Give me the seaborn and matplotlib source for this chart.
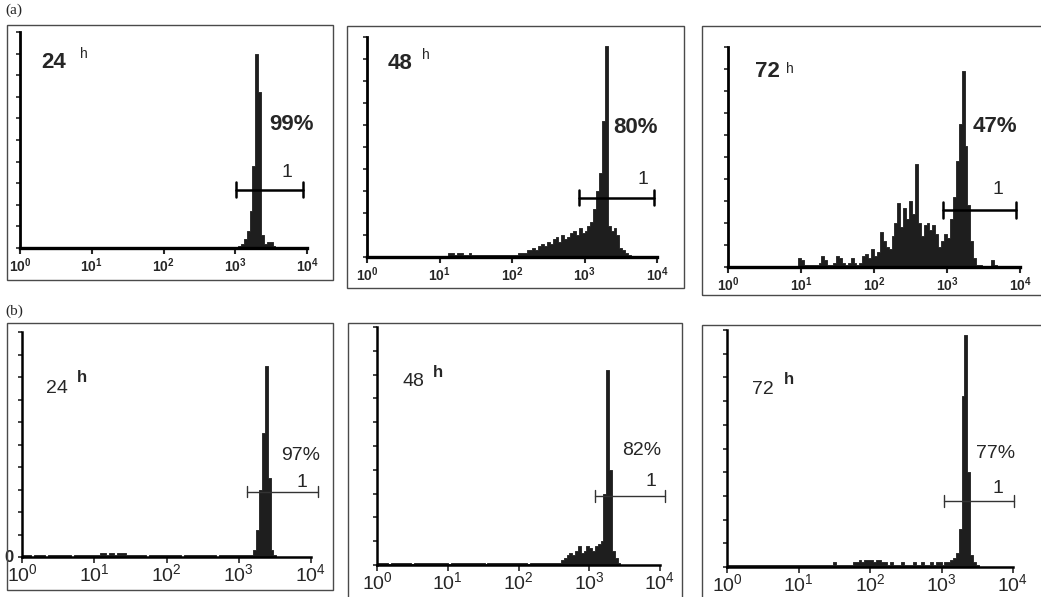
import numpy as np
import pandas as pd
import seaborn as sns
import matplotlib.pyplot as plt
from matplotlib.patches import Rectangle
from matplotlib.ticker import NullLocator

sns.set_style("white")
plt.rcParams["font.family"] = ["Liberation Sans", "DejaVu Sans"]
plt.rcParams["mathtext.fontset"] = "custom"
plt.rcParams["mathtext.rm"] = "Liberation Sans"
plt.rcParams["mathtext.bf"] = "Liberation Sans:bold"

W, H = 1041, 597
BW = 0.04  # bin width in decades (log10 units)

# -----------------------------------
# Data: bin heights (% of y axis), first bin starts at *_start (log10 intensity)
# -----------------------------------
a24_start = 3.00
a24_counts = [0.5, 1, 2, 4, 8, 17, 38, 90, 72, 6, 2, 3, 3, 1]

a48_start = 1.12
a48_counts = [2, 2, 1, 2, 2, 1, 1, 2, 1, 1,
              1, 1, 1, 1, 1, 1, 1, 1, 1, 1,
              1, 1, 1, 1, 2, 2, 2, 3,
              3, 4, 3, 5, 6, 5, 7, 6, 8, 9, 7, 10, 8, 9, 11,
              12, 10, 13, 11, 12,
              14, 16, 22, 30, 38, 62, 96, 14, 12, 13, 10, 4, 3, 2, 1]

a72_start = 0.96
a72_counts = [4, 3, 1, 1, 1, 1, 1, 2, 5, 3,
              1, 1, 2, 5, 4, 2, 1, 2, 4, 2,
              1, 2, 5, 6, 4, 8, 5, 7, 16, 12,
              9, 8, 14, 20, 29, 18, 27, 22, 30, 24,
              47, 20, 14, 19, 20, 17, 19, 15, 9, 12,
              15, 13, 22, 32, 48, 65, 89, 55, 28, 12,
              4, 1, 1, 0, 0, 0, 3, 1]

b24_start = 0.00
b24_counts = [1, 1, 1, 0, 1, 1, 1, 1, 0, 1,
              1, 1, 1, 1, 1, 1, 1, 0, 1, 1,
              1, 1, 1, 1, 1, 1, 1, 2, 2, 1,
              2, 2, 1, 2, 2, 2, 1, 1, 1, 1,
              1, 1, 1, 0, 1, 1, 1, 1, 1, 1,
              1, 1, 1, 1, 1, 0, 1, 1, 1, 1,
              1, 1, 1, 1, 1, 1, 1, 0, 1, 1,
              1, 1, 1, 1, 1, 1, 1, 1, 1,
              1, 3, 12, 30, 55, 85, 35, 3, 1]

b48_start = 0.00
b48_counts = [1, 1, 1, 1, 0.5, 1, 1, 1, 1, 1,
              1, 1, 0.5, 1, 1, 1, 1, 1, 1, 1,
              1, 1, 1, 1, 1, 0.5, 1, 1, 1, 1,
              1, 1, 1, 1, 1, 1, 1, 1, 0.5, 1,
              1, 1, 1, 1, 1, 1, 1, 1, 1, 1,
              1, 1, 1, 0.5, 1, 1, 1, 1, 1, 1,
              1, 1, 1, 1, 1,
              2, 3, 4, 5, 4, 6, 8, 5, 6, 8, 7, 6, 8, 9, 10,
              30, 82, 40, 6, 3, 1]

b72_start = 0.00
b72_counts = [1, 1, 1, 1, 1, 1, 1, 1, 1, 1,
              1, 1, 1, 1, 1, 1, 1, 1, 1, 1,
              1, 1, 1, 1, 1, 1, 1, 1, 1, 1,
              1, 1, 1, 1, 1, 1, 1, 2, 1, 1,
              1, 1, 1, 1, 2, 2, 3, 2, 3, 3,
              3, 2, 3, 3, 2, 2, 1, 2, 1, 1,
              1, 2, 1, 1, 1, 2, 1, 1, 2, 1,
              1, 2, 1, 2, 2, 1, 2, 2, 3,
              4, 6, 16, 72, 98, 40, 5, 2, 1]

time_labels = ["24", "48", "72", "24", "48", "72"]
pct_labels = ["99%", "80%", "47%", "97%", "82%", "77%"]
gate_lo = [3.01, 2.92, 2.95, 3.12, 3.08, 3.03]
gate_hi = [3.95, 3.96, 3.94, 4.10, 4.07, 4.01]
gate_y = [27, 27, 26, 29, 29, 28]

starts = [a24_start, a48_start, a72_start, b24_start, b48_start, b72_start]
counts = [a24_counts, a48_counts, a72_counts, b24_counts, b48_counts, b72_counts]

# -----------------------------------
# Layout (pixels): axes (x0, x1, ytop, ybottom) and outer frames
# -----------------------------------
axes_px = [(20, 307, 32, 248), (367, 657, 37, 257), (728, 1020, 47, 267),
           (22, 311, 332, 557), (377, 660, 327, 565), (727, 1013, 330, 567)]
frames_px = [(7, 25, 333, 280), (347, 26, 684, 288), (702, 26, 1046, 295),
             (7, 323, 333, 590), (348, 323, 682, 602), (702, 325, 1046, 602)]

# text positions (log10 x, y %)
pct_pos = [(3.79, 57), (3.70, 59), (3.66, 64), (3.85, 45), (3.74, 48), (3.75, 48)]
one_pos = [(3.72, 35), (3.80, 35), (3.70, 35), (3.87, 33), (3.87, 35), (3.79, 33)]
time_pos = [(0.30, 86), (0.28, 88), (0.37, 89), (0.33, 75), (0.36, 77), (0.35, 75)]
h_pos = [(0.84, 90), (0.76, 92), (0.80, 90), (0.76, 80), (0.79, 81), (0.79, 79)]

fig = plt.figure(figsize=(W / 100, H / 100), dpi=100)

for (xl, yt, xr, yb) in frames_px:
    fig.add_artist(Rectangle((xl / W, 1 - yb / H), (xr - xl) / W, (yb - yt) / H,
                             transform=fig.transFigure, fill=False,
                             lw=1.0, ec="#4a4a4a"))

fig.text(5 / W, 1 - 10 / H, "(a)", family="Liberation Serif", fontsize=11, va="center")
fig.text(5 / W, 1 - 311 / H, "(b)", family="Liberation Serif", fontsize=11, va="center")

for i in range(6):
    x0, x1, yt, yb = axes_px[i]
    ax = fig.add_axes([x0 / W, 1 - yb / H, (x1 - x0) / W, (yb - yt) / H])
    top_row = i < 3

    start = starts[i]
    c = counts[i]
    df = pd.DataFrame({"x": 10 ** (start + BW * (np.arange(len(c)) + 0.5)), "n": c})
    sns.histplot(df, x="x", weights="n", log_scale=True, binwidth=BW,
                 binrange=(start, start + len(c) * BW), element="step", fill=True,
                 color="#1e1e1e", alpha=1, linewidth=0.6, ax=ax)

    ax.set_xlim(1, 1e4)
    ax.set_ylim(0, 100)
    ax.set_xlabel("")
    ax.set_ylabel("")
    for s in ["top", "right"]:
        ax.spines[s].set_visible(False)
    ax.spines["left"].set_linewidth(2.0 if top_row else 1.8)
    ax.spines["bottom"].set_linewidth(2.4 if top_row else 1.8)
    ax.spines["left"].set_color("black")
    ax.spines["bottom"].set_color("black")
    ax.patch.set_alpha(0)

    ax.set_yticks(np.arange(0, 101, 10))
    ax.yaxis.set_minor_locator(NullLocator())
    ax.tick_params(axis="y", left=True, length=3, width=1.2, labelleft=False)

    ax.set_xticks([1, 10, 100, 1000, 10000])
    ax.xaxis.set_minor_locator(NullLocator())
    if top_row:
        ax.set_xticklabels([r"$\mathbf{10^{%d}}$" % k for k in range(5)])
        ax.tick_params(axis="x", bottom=True, length=4, width=1.5, labelsize=10, pad=2)
    else:
        ax.set_xticklabels([r"$10^{%d}$" % k for k in range(5)])
        ax.tick_params(axis="x", bottom=True, length=4, width=1.2, labelsize=14, pad=1)

    weight = "bold" if top_row else "normal"
    big = 16 if top_row else 14

    # gate marker
    lo, hi, gy = 10 ** gate_lo[i], 10 ** gate_hi[i], gate_y[i]
    lw = 1.8 if top_row else 1.0
    gc = "black" if top_row else "#333333"
    ax.plot([lo, hi], [gy, gy], color=gc, lw=lw, clip_on=False)
    cap = 3.5 if top_row else 2.5
    ax.plot([lo, lo], [gy - cap, gy + cap], color=gc, lw=lw, clip_on=False)
    ax.plot([hi, hi], [gy - cap, gy + cap], color=gc, lw=lw, clip_on=False)
    ax.text(10 ** one_pos[i][0], one_pos[i][1], "1", fontsize=14,
            ha="center", va="center")

    ax.text(10 ** pct_pos[i][0], pct_pos[i][1], pct_labels[i], fontsize=big,
            fontweight=weight, ha="center", va="center")
    ax.text(10 ** time_pos[i][0], time_pos[i][1], time_labels[i], fontsize=big,
            fontweight=weight, ha="left", va="center")
    ax.text(10 ** h_pos[i][0], h_pos[i][1], "h", fontsize=10 if top_row else 12,
            fontweight="bold" if not top_row else "normal", ha="left", va="center")

    if i == 3:
        ax.text(-0.03, 0, "0", transform=ax.transAxes, fontsize=12,
                fontweight="bold", ha="right", va="center")

fig.savefig("out.png", dpi=100)
